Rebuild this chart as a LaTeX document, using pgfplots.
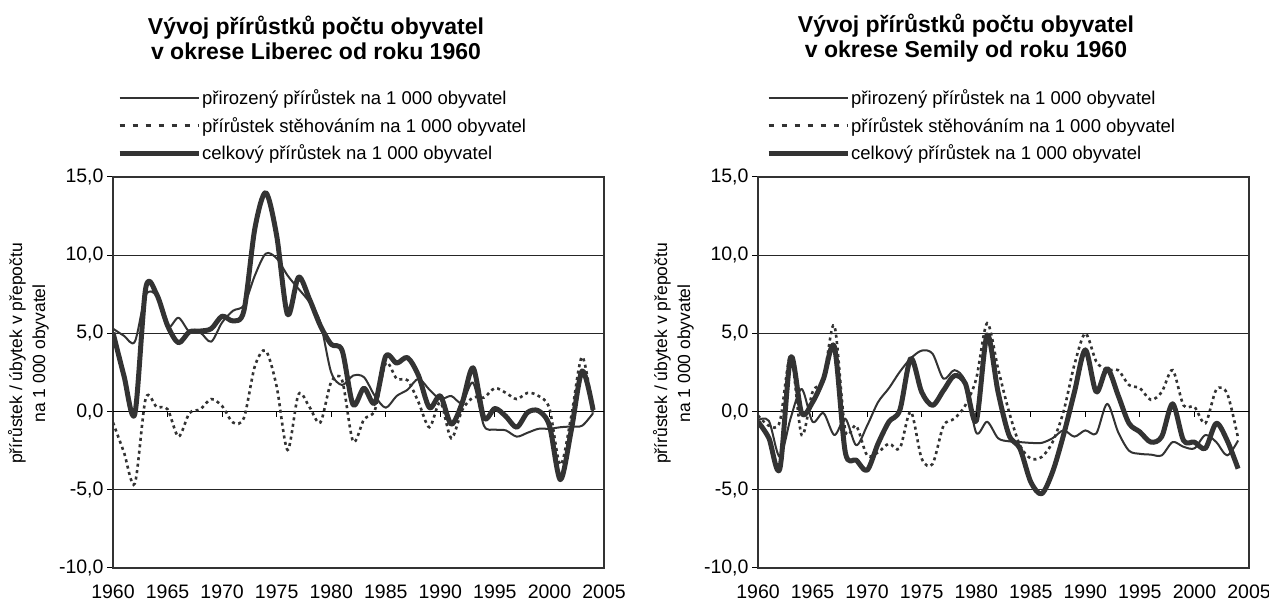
\documentclass[border=0pt]{standalone}
\usepackage{fontspec}
\setmainfont{Liberation Sans}
\usepackage{pgfplots}
\pgfplotsset{compat=1.18}
\definecolor{ln}{HTML}{333333}

\newcommand{\tfont}{\fontsize{23}{25}\selectfont\bfseries}
\newcommand{\lfont}{\fontsize{18.5}{20}\selectfont}
\newcommand{\kfont}{\fontsize{19.5}{21}\selectfont}

\pgfplotsset{
  popul/.style={
    scale only axis, width=491pt, height=391pt,
    xmin=1960, xmax=2005, ymin=-10, ymax=15,
    xtick={1960,1965,...,2005}, ytick={-10,-5,...,15},
    ytick pos=left,
    axis line style={line width=2.4pt, ln},
    ymajorgrids, grid style={line width=1pt, black!85},
    extra y ticks={0}, extra y tick labels={},
    extra y tick style={grid style={line width=1.4pt, black}, tick style={draw=none}},
    tick align=outside, major tick length=6pt,
    x tick style={draw=none}, y tick style={line width=1pt, black},
    ticklabel style={font=\kfont},
    xticklabel style={/pgf/number format/1000 sep={}, yshift=-7pt},
    yticklabel style={/pgf/number format/.cd, fixed, fixed zerofill, precision=1, use comma},
    /pgf/number format/assume math mode=true,
    legend style={at={(axis description cs:0,1)}, anchor=south west, yshift=14pt,
      draw=none, fill=none, inner sep=0pt, row sep=8pt, font=\lfont,
      nodes={inner xsep=1pt, inner ysep=1.5pt}, cells={anchor=west}},
    legend image code/.code={\draw[##1] (0pt,0pt) -- (79pt,0pt);},
  },
  nat/.style={ln, line width=2pt, smooth, line join=round},
  mig/.style={ln, line width=2.6pt, smooth, dash pattern=on 3pt off 3.5pt,
    legend image code/.code={\draw[##1, dash pattern=on 5pt off 8pt] (0pt,0pt) -- (79pt,0pt);}},
  tot/.style={ln, line width=5pt, smooth, line join=round},
}

\begin{document}
\begin{tikzpicture}
\path[use as bounding box] (0,0) rectangle (1269pt,602pt);

% --- Liberec ---
\node[align=center, font=\tfont] at (316pt,564pt) {Vývoj přírůstků počtu obyvatel\\v okrese Liberec od roku 1960};
\node[rotate=90, align=center, font=\fontsize{17.5}{23}\selectfont] at (28.5pt,248.5pt) {přírůstek / úbytek v přepočtu\\na 1 000 obyvatel};
\begin{axis}[popul, at={(113pt,34pt)}, anchor=south west, legend style={xshift=4pt}]
\addplot[nat] coordinates {(1960,5.3)(1961,4.85)(1962,4.47)(1963,7.45)(1964,7.4)(1965,5.4)(1966,6.0)(1967,5.1)(1968,5.05)(1969,4.47)(1970,5.7)(1971,6.45)(1972,6.8)(1973,8.7)(1974,10.1)(1975,9.8)(1976,8.7)(1977,7.85)(1978,7.0)(1979,5.7)(1980,2.5)(1981,1.7)(1982,2.3)(1983,2.2)(1984,1.0)(1985,0.25)(1986,1.0)(1987,1.4)(1988,2.1)(1989,1.4)(1990,0.8)(1991,1.0)(1992,0.55)(1993,1.85)(1994,-0.9)(1995,-1.15)(1996,-1.2)(1997,-1.6)(1998,-1.35)(1999,-1.1)(2000,-1.1)(2001,-1.0)(2002,-0.95)(2003,-0.9)(2004,-0.1)};
\addlegendentry{přirozený přírůstek na 1 000 obyvatel}
\addplot[mig] coordinates {(1960,-0.7)(1961,-2.6)(1962,-4.6)(1963,0.85)(1964,0.3)(1965,0.15)(1966,-1.6)(1967,-0.1)(1968,0.15)(1969,0.8)(1970,0.35)(1971,-0.7)(1972,-0.4)(1973,2.9)(1974,3.9)(1975,1.6)(1976,-2.45)(1977,1.1)(1978,0.3)(1979,-0.7)(1980,1.9)(1981,2.0)(1982,-1.9)(1983,-0.5)(1984,0.1)(1985,3.1)(1986,2.1)(1987,2.0)(1988,0.6)(1989,-1.0)(1990,0.6)(1991,-1.7)(1992,0.1)(1993,0.9)(1994,0.9)(1995,1.5)(1996,1.2)(1997,0.8)(1998,1.2)(1999,1.0)(2000,0.2)(2001,-3.4)(2002,-0.3)(2003,3.5)(2004,-0.1)};
\addlegendentry{přírůstek stěhováním na 1 000 obyvatel}
\addplot[tot] coordinates {(1960,5.05)(1961,2.3)(1962,-0.15)(1963,7.9)(1964,7.5)(1965,5.5)(1966,4.4)(1967,5.1)(1968,5.15)(1969,5.3)(1970,6.1)(1971,5.8)(1972,6.45)(1973,11.7)(1974,14.0)(1975,11.25)(1976,6.2)(1977,8.6)(1978,7.2)(1979,5.5)(1980,4.3)(1981,3.9)(1982,0.45)(1983,1.5)(1984,0.55)(1985,3.55)(1986,3.1)(1987,3.45)(1988,2.3)(1989,0.25)(1990,1.0)(1991,-0.8)(1992,0.55)(1993,2.8)(1994,-0.4)(1995,0.2)(1996,-0.3)(1997,-1.0)(1998,-0.05)(1999,0.05)(2000,-0.9)(2001,-4.35)(2002,-1.2)(2003,2.6)(2004,0.1)};
\addlegendentry{celkový přírůstek na 1 000 obyvatel}
\pgfplotsinvokeforeach{1965,1970,1975,1980,1985,1990,1995,2000}{\draw[black, line width=1pt] (axis cs:#1,0) -- ++(0pt,-5pt);}
\end{axis}

% --- Semily ---
\node[align=center, font=\tfont] at (966pt,564pt) {Vývoj přírůstků počtu obyvatel\\v okrese Semily od roku 1960};
\node[rotate=90, align=center, font=\fontsize{17.5}{23}\selectfont] at (673.5pt,248.5pt) {přírůstek / úbytek v přepočtu\\na 1 000 obyvatel};
\begin{axis}[popul, at={(758pt,34pt)}, anchor=south west, legend style={xshift=8pt}]
\addplot[nat] coordinates {(1960,-0.55)(1961,-0.6)(1962,-2.9)(1963,-0.4)(1964,1.45)(1965,-0.65)(1966,-0.1)(1967,-1.5)(1968,-0.45)(1969,-2.15)(1970,-0.9)(1971,0.6)(1972,1.5)(1973,2.55)(1974,3.4)(1975,3.9)(1976,3.7)(1977,2.1)(1978,2.65)(1979,1.9)(1980,-1.35)(1981,-0.65)(1982,-1.7)(1983,-1.9)(1984,-1.95)(1985,-2.0)(1986,-2.0)(1987,-1.7)(1988,-1.2)(1989,-1.6)(1990,-1.2)(1991,-1.4)(1992,0.5)(1993,-1.3)(1994,-2.5)(1995,-2.7)(1996,-2.75)(1997,-2.8)(1998,-1.95)(1999,-2.25)(2000,-2.35)(2001,-1.5)(2002,-1.95)(2003,-2.8)(2004,-1.85)};
\addlegendentry{přirozený přírůstek na 1 000 obyvatel}
\addplot[mig] coordinates {(1960,-0.25)(1961,-0.9)(1962,-0.65)(1963,3.6)(1964,-1.5)(1965,1.25)(1966,2.1)(1967,5.5)(1968,-1.2)(1969,-0.9)(1970,-2.8)(1971,-2.6)(1972,-2.05)(1973,-2.35)(1974,0.0)(1975,-3.0)(1976,-3.35)(1977,-0.9)(1978,-0.45)(1979,0.4)(1980,2.1)(1981,5.65)(1982,2.75)(1983,0.0)(1984,-2.15)(1985,-3.0)(1986,-2.9)(1987,-1.95)(1988,0.0)(1989,3.0)(1990,5.0)(1991,3.2)(1992,2.65)(1993,2.65)(1994,1.7)(1995,1.5)(1996,0.75)(1997,1.25)(1998,2.65)(1999,0.4)(2000,0.3)(2001,-0.75)(2002,1.4)(2003,1.15)(2004,-1.7)};
\addlegendentry{přírůstek stěhováním na 1 000 obyvatel}
\addplot[tot] coordinates {(1960,-0.65)(1961,-1.7)(1962,-3.65)(1963,3.5)(1964,-0.1)(1965,0.6)(1966,2.1)(1967,4.15)(1968,-2.6)(1969,-3.1)(1970,-3.75)(1971,-2.05)(1972,-0.65)(1973,0.1)(1974,3.4)(1975,1.25)(1976,0.4)(1977,1.35)(1978,2.3)(1979,1.8)(1980,-0.6)(1981,4.9)(1982,1.25)(1983,-1.5)(1984,-2.35)(1985,-4.5)(1986,-5.25)(1987,-3.85)(1988,-1.5)(1989,1.25)(1990,3.95)(1991,1.25)(1992,2.75)(1993,1.05)(1994,-0.75)(1995,-1.3)(1996,-1.95)(1997,-1.6)(1998,0.5)(1999,-1.85)(2000,-1.95)(2001,-2.35)(2002,-0.75)(2003,-1.85)(2004,-3.65)};
\addlegendentry{celkový přírůstek na 1 000 obyvatel}
\pgfplotsinvokeforeach{1965,1970,1975,1980,1985,1990,1995,2000}{\draw[black, line width=1pt] (axis cs:#1,0) -- ++(0pt,-5pt);}
\end{axis}
\end{tikzpicture}
\end{document}
